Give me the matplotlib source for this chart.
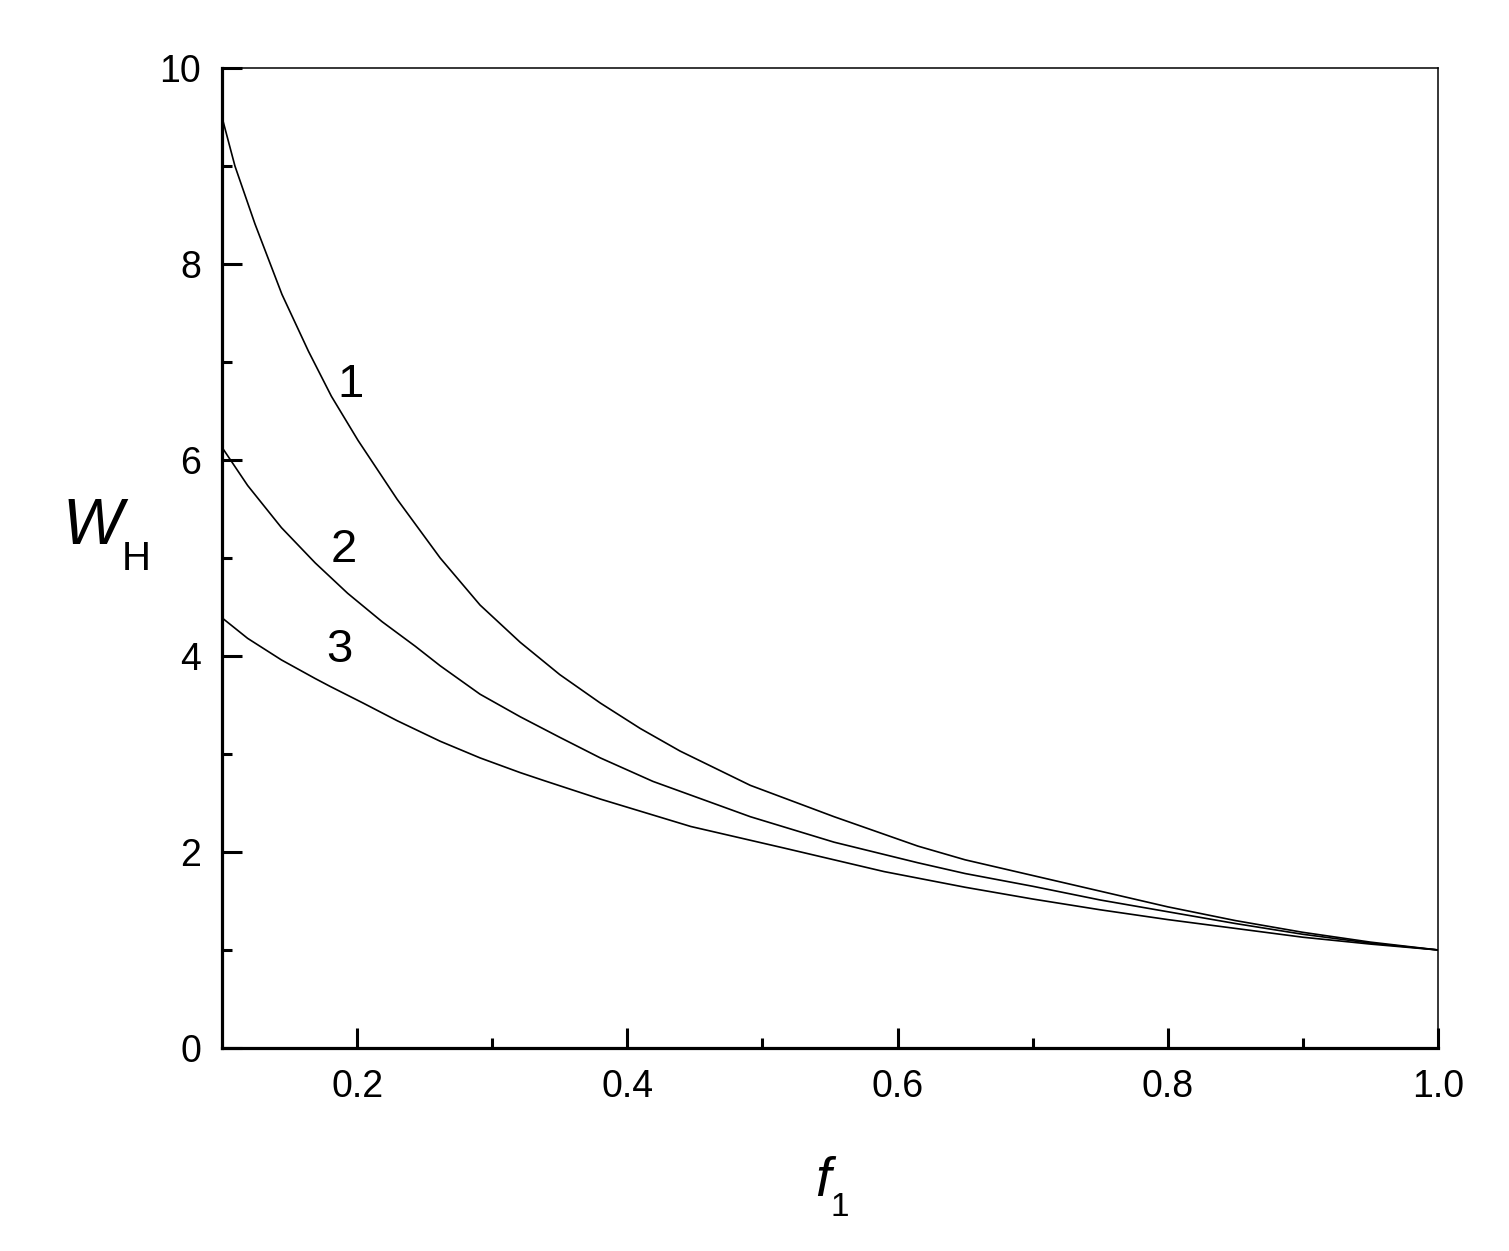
import matplotlib
matplotlib.use("Agg")
import matplotlib.pyplot as plt
from matplotlib.ticker import MultipleLocator, FixedLocator

plt.rcParams['font.family'] = ['Liberation Sans', 'DejaVu Sans']

f_1 = [0.1, 0.1096, 0.1244, 0.1444, 0.164, 0.181, 0.2007, 0.2296, 0.2615,
       0.291, 0.3207, 0.35, 0.38, 0.4096, 0.439, 0.491, 0.553, 0.615, 0.65,
       0.7, 0.75, 0.8, 0.85, 0.9, 0.95, 1.0]
w_1 = [9.5, 9.0, 8.41, 7.69, 7.11, 6.65, 6.20, 5.60, 5.00,
       4.52, 4.14, 3.81, 3.52, 3.26, 3.03, 2.68, 2.36, 2.06, 1.92,
       1.76, 1.60, 1.44, 1.30, 1.18, 1.08, 1.0]
f_2 = [0.1, 0.119, 0.144, 0.169, 0.193, 0.2185, 0.243, 0.2615, 0.291, 0.3207,
       0.35, 0.38, 0.419, 0.491, 0.553, 0.615, 0.65, 0.7, 0.75, 0.8, 0.85,
       0.9, 0.95, 1.0]
w_2 = [6.13, 5.74, 5.31, 4.95, 4.64, 4.35, 4.10, 3.90, 3.61, 3.38,
       3.17, 2.96, 2.72, 2.36, 2.10, 1.89, 1.78, 1.65, 1.51, 1.39, 1.27,
       1.16, 1.07, 1.0]
f_3 = [0.1, 0.119, 0.144, 0.169, 0.18, 0.2044, 0.2296, 0.2615, 0.291, 0.3207,
       0.338, 0.38, 0.447, 0.516, 0.59, 0.65, 0.7, 0.75, 0.8, 0.85, 0.9,
       0.95, 1.0]
w_3 = [4.39, 4.18, 3.96, 3.77, 3.69, 3.52, 3.34, 3.13, 2.96, 2.81,
       2.73, 2.54, 2.26, 2.04, 1.80, 1.64, 1.52, 1.41, 1.31, 1.22, 1.13,
       1.06, 1.0]
series = [(f_1, w_1), (f_2, w_2), (f_3, w_3)]
curve_labels = ["1", "2", "3"]
label_pos = [(0.195, 6.77), (0.19, 5.08), (0.187, 4.06)]
xtick_vals = [0.2, 0.4, 0.6, 0.8, 1.0]
xtick_labels = ["0.2", "0.4", "0.6", "0.8", "1.0"]
ytick_vals = [0, 2, 4, 6, 8, 10]

fig = plt.figure(figsize=(15.09, 12.51), dpi=100)
ax = fig.add_axes([0.1471, 0.1623, 0.953 - 0.1471, 0.9456 - 0.1623])

for fx, w in series:
    ax.plot(fx, w, color='black', lw=1.2, solid_joinstyle='round')

for lab, (x, y) in zip(curve_labels, label_pos):
    ax.text(x, y, lab, fontsize=34, ha='center', va='center')

ax.set_xlim(0.1, 1.0)
ax.set_ylim(0, 10)
ax.xaxis.set_major_locator(FixedLocator(xtick_vals))
ax.set_xticklabels(xtick_labels)
ax.xaxis.set_minor_locator(FixedLocator([0.3, 0.5, 0.7, 0.9]))
ax.yaxis.set_major_locator(FixedLocator(ytick_vals))
ax.yaxis.set_minor_locator(MultipleLocator(1))

ax.tick_params(which='both', direction='in', top=False, right=False,
               labelsize=27, width=2.2)
ax.tick_params(which='major', length=14.5, pad=15)
ax.tick_params(which='minor', length=7.2)
for s in ['left', 'bottom']:
    ax.spines[s].set_linewidth(2.3)
for s in ['top', 'right']:
    ax.spines[s].set_linewidth(1.1)

# axis labels
fig.text(0.0415, 0.579, "W", fontsize=46, style='italic', ha='left', va='center')
fig.text(0.0805, 0.553, "H", fontsize=29, ha='left', va='center')
fig.text(0.540, 0.055, "f", fontsize=40, style='italic', ha='left', va='center')
fig.text(0.5505, 0.035, "1", fontsize=24, ha='left', va='center')

fig.savefig("out.png", dpi=100, facecolor='white')
